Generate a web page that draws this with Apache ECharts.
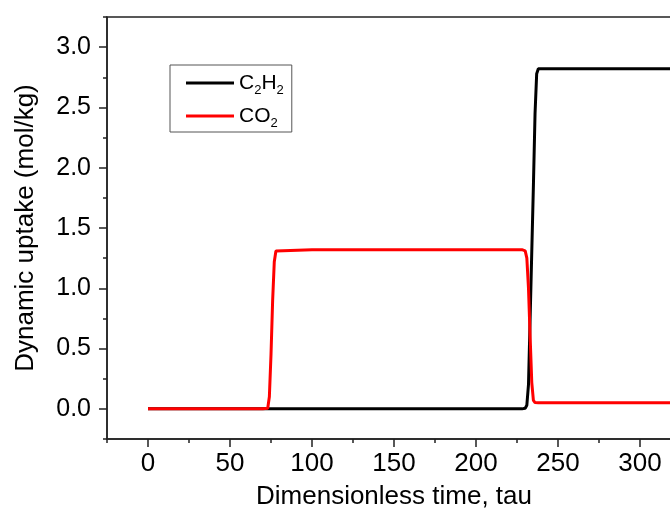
<!DOCTYPE html>
<html>
<head>
<meta charset="utf-8">
<script src="https://cdn.jsdelivr.net/npm/echarts@6/dist/echarts.min.js"></script>
<style>
  html, body { margin: 0; padding: 0; background: #fff; }
  #main { width: 670px; height: 513px; }
</style>
</head>
<body>
<div id="main"></div>
<script>
// dimensionless time
var tau = [0, 70, 73, 74, 75, 76, 77, 78, 79, 100, 150, 200, 228, 229, 230, 231, 232, 233, 234, 235, 236, 237, 238, 240, 280, 325];
// uptake, mol/kg
var c2h2 = [0, 0, 0, 0, 0, 0, 0, 0, 0, 0, 0, 0, 0, 0, 0.005, 0.03, 0.2, 0.75, 1.3, 1.85, 2.45, 2.78, 2.82, 2.82, 2.82, 2.82];
var co2 = [0, 0, 0.005, 0.1, 0.45, 0.9, 1.22, 1.31, 1.32, 1.32, 1.32, 1.32, 1.32, 1.32, 1.31, 1.25, 1.0, 0.6, 0.22, 0.07, 0.052, 0.05, 0.05, 0.05, 0.05, 0.05];

var xTicks = [0, 50, 100, 150, 200, 250, 300];
var xMinor = [-25, 25, 75, 125, 175, 225, 275, 325];
var yTicks = [0, 0.5, 1.0, 1.5, 2.0, 2.5, 3.0];
var yMinor = [-0.25, 0.25, 0.75, 1.25, 1.75, 2.25, 2.75, 3.25];

function pairs(xs, ys) {
    var out = [];
    for (var i = 0; i < xs.length; i++) out.push([xs[i], ys[i]]);
    return out;
}

var font = 'Liberation Sans, Arial, sans-serif';
var axisColor = '#222';

var chart = echarts.init(document.getElementById('main'));
var option = {
    animation: false,
    grid: {
        left: 107, top: 17, right: -11, bottom: 74,
        outerBoundsMode: 'none', containLabel: false,
        show: true, borderColor: axisColor, borderWidth: 1.5, backgroundColor: 'transparent'
    },
    legend: {
        orient: 'vertical',
        left: 170, top: 65,
        padding: [4, 8, 2, 16],
        itemGap: 5,
        borderColor: '#555', borderWidth: 1,
        icon: 'rect', itemWidth: 48, itemHeight: 3,
        data: ['C2H2', 'CO2'],
        formatter: function (name) {
            if (name === 'C2H2') return '{b|C}{s|2}{b|H}{s|2}';
            return '{b|CO}{s|2}';
        },
        textStyle: {
            fontFamily: font, color: '#000',
            rich: {
                b: { fontFamily: font, fontSize: 21, color: '#000', lineHeight: 28 },
                s: { fontFamily: font, fontSize: 13, color: '#000', lineHeight: 13, padding: [15, 0, 0, 0] }
            }
        }
    },
    xAxis: [
        {
            type: 'value',
            min: -25, max: 325,
            name: 'Dimensionless time, tau',
            nameLocation: 'middle', nameGap: 45,
            nameTextStyle: { fontFamily: font, fontSize: 26, color: '#000' },
            axisLine: { show: true, onZero: false, lineStyle: { color: axisColor, width: 1.5 } },
            axisTick: { show: true, inside: false, length: 8, customValues: xTicks, lineStyle: { color: axisColor, width: 1.5 } },
            splitLine: { show: false },
            axisLabel: {
                fontFamily: font, fontSize: 26, color: '#000', margin: 12,
                customValues: xTicks
            }
        },
        {
            type: 'value',
            min: -25, max: 325, position: 'bottom',
            axisLine: { show: false, onZero: false },
            axisTick: { show: true, inside: false, length: 4, customValues: xMinor, lineStyle: { color: axisColor, width: 1.5 } },
            axisLabel: { show: false },
            splitLine: { show: false }
        }
    ],
    yAxis: [
        {
            type: 'value',
            min: -0.25, max: 3.25,
            name: 'Dynamic uptake (mol/kg)',
            nameLocation: 'middle', nameGap: 68,
            nameTextStyle: { fontFamily: font, fontSize: 26, color: '#000' },
            axisLine: { show: true, onZero: false, lineStyle: { color: axisColor, width: 1.5 } },
            axisTick: { show: true, inside: false, length: 8, customValues: yTicks, lineStyle: { color: axisColor, width: 1.5 } },
            splitLine: { show: false },
            axisLabel: {
                fontFamily: font, fontSize: 25, color: '#000', margin: 16,
                customValues: yTicks,
                formatter: function (v) { return v.toFixed(1); }
            }
        },
        {
            type: 'value',
            min: -0.25, max: 3.25, position: 'left',
            axisLine: { show: false, onZero: false },
            axisTick: { show: true, inside: false, length: 4, customValues: yMinor, lineStyle: { color: axisColor, width: 1.5 } },
            axisLabel: { show: false },
            splitLine: { show: false }
        }
    ],
    series: [
        {
            name: 'C2H2', type: 'line', data: pairs(tau, c2h2),
            xAxisIndex: 0, yAxisIndex: 0,
            showSymbol: false, symbol: 'none',
            lineStyle: { color: '#000', width: 3 }, itemStyle: { color: '#000' }
        },
        {
            name: 'CO2', type: 'line', data: pairs(tau, co2),
            xAxisIndex: 0, yAxisIndex: 0,
            showSymbol: false, symbol: 'none',
            lineStyle: { color: '#ff0000', width: 3 }, itemStyle: { color: '#ff0000' }
        }
    ]
};
chart.setOption(option);
</script>
</body>
</html>
